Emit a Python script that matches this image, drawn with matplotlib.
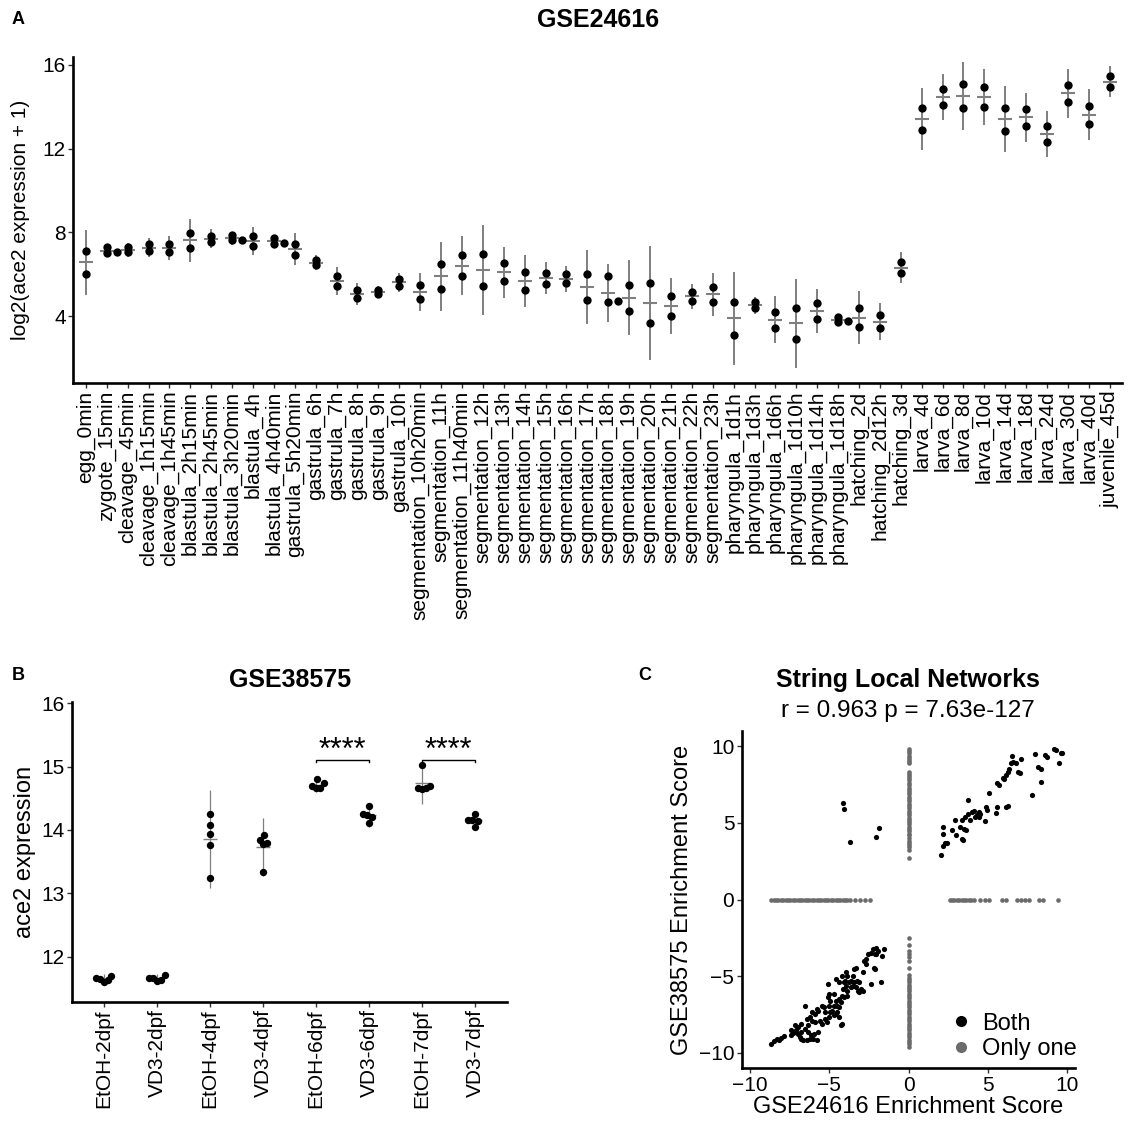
import numpy as np
import matplotlib.pyplot as plt
from matplotlib.lines import Line2D

plt.rcParams['font.family'] = ['Liberation Sans', 'DejaVu Sans']

# ---------------- data ----------------
# panel A: GSE24616 developmental stages (replicate values)
stages = ['egg_0min', 'zygote_15min', 'cleavage_45min', 'cleavage_1h15min', 'cleavage_1h45min',
          'blastula_2h15min', 'blastula_2h45min', 'blastula_3h20min', 'blastula_4h', 'blastula_4h40min',
          'gastrula_5h20min', 'gastrula_6h', 'gastrula_7h', 'gastrula_8h', 'gastrula_9h', 'gastrula_10h',
          'segmentation_10h20min', 'segmentation_11h', 'segmentation_11h40min', 'segmentation_12h',
          'segmentation_13h', 'segmentation_14h', 'segmentation_15h', 'segmentation_16h',
          'segmentation_17h', 'segmentation_18h', 'segmentation_19h', 'segmentation_20h',
          'segmentation_21h', 'segmentation_22h', 'segmentation_23h', 'pharyngula_1d1h',
          'pharyngula_1d3h', 'pharyngula_1d6h', 'pharyngula_1d10h', 'pharyngula_1d14h',
          'pharyngula_1d18h', 'hatching_2d', 'hatching_2d12h', 'hatching_3d', 'larva_4d', 'larva_6d',
          'larva_8d', 'larva_10d', 'larva_14d', 'larva_18d', 'larva_24d', 'larva_30d', 'larva_40d',
          'juvenile_45d']
stage_values = [
    [7.12, 6.03], [7.31, 7.05, 7.03], [7.29, 7.06], [7.44, 7.12], [7.47, 7.07],
    [7.99, 7.25], [7.85, 7.53], [7.90, 7.64, 7.62], [7.83, 7.36], [7.75, 7.49, 7.47],
    [7.47, 6.93], [6.70, 6.43], [5.92, 5.45], [5.24, 4.87], [5.27, 5.06],
    [5.78, 5.46], [5.48, 4.84], [6.48, 5.32], [6.91, 5.92], [6.97, 5.45],
    [6.53, 5.67], [6.11, 5.24], [6.08, 5.54], [6.00, 5.57], [6.03, 4.78],
    [5.92, 4.68, 4.74], [5.51, 4.25], [5.60, 3.68], [4.97, 4.03], [5.15, 4.74],
    [5.40, 4.68], [4.68, 3.11], [4.67, 4.38], [4.22, 3.43], [4.41, 2.90],
    [4.62, 3.87], [3.98, 3.72, 3.76], [4.38, 3.49], [4.06, 3.43], [6.58, 6.07],
    [13.96, 12.91], [14.87, 14.09], [15.11, 13.96], [14.95, 14.01], [13.96, 12.85],
    [13.91, 13.09], [13.10, 12.32], [15.06, 14.23], [14.06, 13.20], [15.46, 14.94],
]

# panel B: GSE38575 treatment groups
groups = ['EtOH-2dpf', 'VD3-2dpf', 'EtOH-4dpf', 'VD3-4dpf', 'EtOH-6dpf', 'VD3-6dpf', 'EtOH-7dpf', 'VD3-7dpf']
group_values = [
    [11.60, 11.63, 11.65, 11.66, 11.70],
    [11.61, 11.64, 11.66, 11.67, 11.71],
    [14.25, 14.08, 13.93, 13.77, 13.24],
    [13.92, 13.84, 13.80, 13.78, 13.34],
    [14.80, 14.74, 14.69, 14.67, 14.66],
    [14.38, 14.25, 14.23, 14.21, 14.11],
    [15.03, 14.69, 14.67, 14.66, 14.64],
    [14.25, 14.16, 14.15, 14.14, 14.05],
]
sig_pairs = [(4, 5), (6, 7)]
sig_label = '****'
sig_y = 15.105

# panel C: enrichment scores of string local networks
both_x = [
    2.06, 2.17, 2.28, 2.45, 2.17, 2.17, 2.77, 2.92, 2.97, 3.25, 3.35, 3.35, 3.46, 3.53, 3.57, 3.61,
    3.78, 3.78, 3.89, 4.00, 4.11, 4.21, 4.32, 4.43, 4.54, 4.47, 4.82, 4.90, 4.97, 5.07, 5.50, 5.61,
    5.61, 5.72, 5.93, 6.04, 6.15, 6.26, 6.15, 6.26, 6.36, 6.47, 6.54, 6.58, 6.80, 6.90, 7.05, 7.12,
    7.76, 7.98, 8.19, 8.34, 8.36, 8.62, 8.73, 9.16, 9.33, 9.48, 9.59, 9.70,
    -4.13, -4.04, -3.68, -2.07, -1.85,
    -8.69, -8.47, -8.30, -8.15, -8.04, -7.83, -7.40, -7.29, -7.18, -7.08, -6.97, -6.86, -6.75, -6.65,
    -6.43, -6.22, -6.00, -5.79, -7.18, -6.75, -6.54, -6.32, -6.43, -6.22, -6.11, -5.89, -5.79, -5.68,
    -5.46, -5.36, -5.57, -5.46, -5.25, -5.14, -5.03, -4.93, -4.82, -4.71, -4.60, -4.50, -4.39, -4.28,
    -4.17, -6.54, -5.68, -5.94, -6.15, -5.25, -5.03, -5.08, -5.03, -4.71, -4.60, -4.50, -4.39, -4.28,
    -4.17, -4.13, -4.07, -4.00, -3.96, -3.85, -3.74, -3.64, -3.53, -3.42, -3.31, -3.27, -3.21, -3.10,
    -2.99, -2.88, -2.84, -2.71, -2.67, -2.56, -2.35, -2.19, -2.13, -2.24, -2.02, -1.92, -1.76, -2.02,
    -1.64, -1.55, -5.08, -4.60, -4.39, -4.17, -3.96, -3.85, -3.53, -3.31, -2.78, -2.35, -2.13, -6.32,
    -6.75, -6.97, -7.40, -5.89, -6.11, -4.93, -4.71, -4.39, -4.07, -3.85, -3.64, -3.42, -3.10,
]
both_y = [
    2.92, 3.46, 3.72, 3.68, 4.27, 4.76, 4.55, 5.20, 4.18, 4.76, 5.20, 3.98, 3.90, 4.63, 5.41, 4.55,
    5.59, 6.50, 5.20, 5.74, 5.80, 5.41, 5.52, 5.41, 5.59, 5.72, 5.15, 6.06, 5.85, 6.93, 5.63, 6.06,
    7.58, 7.47, 7.90, 7.84, 6.06, 6.11, 8.12, 8.34, 8.55, 8.88, 9.35, 8.98, 8.88, 8.34, 8.27, 9.20,
    6.82, 9.48, 8.66, 8.55, 7.69, 9.46, 9.31, 9.85, 9.79, 8.88, 9.59, 9.59,
    6.32, 5.89, 3.75, 4.07, 4.66,
    -9.41, -9.26, -9.13, -9.20, -9.05, -8.92, -8.55, -8.70, -8.66, -8.55, -8.76, -8.98, -9.09, -9.20,
    -9.20, -9.13, -9.09, -9.20, -8.22, -8.12, -8.44, -8.22, -7.79, -7.68, -7.36, -7.47, -7.14, -7.25,
    -6.92, -7.03, -7.90, -8.12, -7.79, -8.01, -7.68, -7.36, -7.25, -7.57, -7.47, -7.36, -7.68, -8.22,
    -8.12, -6.92, -8.66, -8.76, -8.83, -7.36, -6.92, -6.38, -6.17, -6.17, -6.60, -6.92, -7.03, -6.71,
    -6.28, -5.84, -5.41, -5.30, -5.63, -5.95, -5.41, -5.30, -4.98, -4.54, -4.44, -5.30, -5.95, -6.06,
    -5.84, -5.95, -4.76, -4.22, -3.89, -3.57, -3.46, -4.44, -4.54, -3.25, -3.14, -3.35, -5.41, -3.57,
    -3.68, -3.25, -5.52, -5.19, -5.41, -4.98, -4.76, -4.98, -5.63, -5.73, -4.00, -5.52, -3.57, -8.66,
    -8.66, -8.33, -8.87, -8.01, -7.90, -6.60, -6.92, -6.49, -6.38, -6.28, -5.73, -5.41, -5.41,
]
# networks significant in only one dataset (score 0 in the other)
only_col_y = [
    9.85, 9.70, 9.55, 9.40, 9.25, 9.10, 8.95, 8.90, 8.35, 8.20, 8.05, 7.90, 7.80, 7.60, 7.45, 7.30,
    7.15, 7.00, 6.90, 6.70, 6.55, 6.40, 6.25, 6.10, 6.00, 5.80, 5.65, 5.50, 5.35, 5.20, 5.05, 4.90,
    4.75, 4.60, 4.45, 4.30, 4.20, 4.00, 3.85, 3.70, 3.55, 3.40, 3.25, 2.70,
    -2.50, -3.00, -3.35, -3.55, -3.75, -4.00, -4.45, -4.95, -5.10, -5.25, -5.40, -5.55, -5.70, -5.85,
    -6.00, -6.15, -6.30, -6.45, -6.60, -6.75, -6.90, -7.05, -7.20, -7.35, -7.50, -7.65, -7.80, -7.95,
    -8.10, -8.25, -8.40, -8.55, -8.70, -8.85, -9.00, -9.15, -9.30, -9.45, -9.60,
]
only_row_x = [
    -8.65, -8.50, -8.35, -8.20, -8.05, -7.90, -7.75, -7.60, -7.45, -7.30, -7.15, -7.00, -6.85, -6.70,
    -6.55, -6.40, -6.25, -6.10, -5.95, -5.80, -5.65, -5.50, -5.35, -5.20, -5.05, -4.90, -4.75, -4.60,
    -4.45, -4.30, -4.15, -4.00, -3.85, -3.70, -3.35, -3.05, -2.75, -2.45,
    2.60, 2.75, 2.90, 3.05, 3.20, 3.35, 3.50, 3.65, 3.80, 3.95, 4.10, 4.50, 4.80, 5.05, 5.90, 6.15,
    6.85, 7.10, 7.35, 7.60, 8.25, 8.50, 9.40,
]
stat_text = 'r = 0.963 p = 7.63e-127'

# ---------------- figure ----------------
W, H = 1131, 1123
fig = plt.figure(figsize=(W / 100, H / 100), dpi=100)


def box(x0, y0, x1, y1):
    # pixel box (top-left origin) -> figure fraction
    return [x0 / W, 1 - y1 / H, (x1 - x0) / W, (y1 - y0) / H]


def style(ax, fs):
    for s in ['top', 'right']:
        ax.spines[s].set_visible(False)
    for s in ['left', 'bottom']:
        ax.spines[s].set_linewidth(1.9)
        ax.spines[s].set_color('black')
    ax.tick_params(length=3.5, width=1, color='#333333', labelsize=fs, labelcolor='black', pad=2)


def swarm(ax, xc, vals, sx, sy):
    # simple beeswarm: horizontal offsets (data units) so points do not collide
    vals = np.asarray(vals, float)
    ypx = ax.transData.transform(np.column_stack([np.full(len(vals), xc), vals]))[:, 1]
    xpx = ax.transData.transform([[0, 0], [1, 0]])
    per_unit = xpx[1, 0] - xpx[0, 0]
    placed = []
    offs = np.zeros(len(vals))
    for i in np.argsort(vals, kind='stable'):
        cands = [0.0]
        for dx, yy in placed:
            d = (ypx[i] - yy) / sy
            if abs(d) < 1:
                w = sx * np.sqrt(1 - d * d)
                cands += [dx + w, dx - w]
        cands.sort(key=lambda c: (round(abs(c), 6), -c))
        for c in cands:
            ok = True
            for dx, yy in placed:
                d = (ypx[i] - yy) / sy
                if abs(d) < 1 and abs(c - dx) < sx * np.sqrt(1 - d * d) - 1e-6:
                    ok = False
                    break
            if ok:
                break
        placed.append((c, ypx[i]))
        offs[i] = c / per_unit
    return offs


grey = '#7f7f7f'

# ---------------- panel A ----------------
axA = fig.add_axes(box(73.3, 57, 1122.3, 383))
style(axA, 15)
axA.set_xlim(-0.6, len(stages) - 0.4)
axA.set_ylim(0.81, 16.38)
axA.set_yticks([4, 8, 12, 16])
axA.set_xticks(range(len(stages)))
axA.set_xticklabels(stages, rotation=90, va='top', ha='center')
for i, v in enumerate(stage_values):
    v = np.array(v)
    m, sd = v.mean(), v.std(ddof=1)
    axA.vlines(i, m - 2 * sd, m + 2 * sd, color=grey, lw=1.4, zorder=2)
    axA.plot(i, m, marker='_', ms=10, mew=1.5, color=grey, zorder=2)
    off = swarm(axA, i, v, 10, 4)
    axA.plot(i + off, v, 'o', color='black', ms=6, mec='none', zorder=3)
axA.set_ylabel('log2(ace2 expression + 1)', fontsize=15)
axA.yaxis.set_label_coords(-0.041, 0.5)
fig.text(597.8 / W, 1 - 20 / H, 'GSE24616', fontsize=18, fontweight='bold', ha='center', va='center')
fig.text(18 / W, 1 - 20 / H, 'A', fontsize=13, fontweight='bold', ha='center', va='center')

# ---------------- panel B ----------------
axB = fig.add_axes(box(72.3, 701.7, 507, 1001.7))
style(axB, 15)
axB.set_xlim(-0.6, len(groups) - 0.4)
axB.set_ylim(11.29, 16.025)
axB.set_yticks([12, 13, 14, 15, 16])
axB.set_xticks(range(len(groups)))
axB.set_xticklabels(groups, rotation=90, va='top', ha='center')
for i, v in enumerate(group_values):
    v = np.array(v)
    m, sd = v.mean(), v.std(ddof=1)
    axB.vlines(i, m - 2 * sd, m + 2 * sd, color=grey, lw=0.9, zorder=2)
    axB.plot(i, m, marker='_', ms=9.5, mew=1.0, color=grey, zorder=2)
    off = swarm(axB, i, v, 4, 9)
    axB.plot(i + off, v, 'o', color='black', ms=5.3, mec='none', zorder=3)
for a, b in sig_pairs:
    axB.plot([a, a, b, b], [sig_y - 0.035, sig_y, sig_y, sig_y - 0.035], color='black', lw=1.0)
    axB.text((a + b) / 2, sig_y + 0.01, sig_label, ha='center', va='baseline', fontsize=22)
axB.set_ylabel('ace2 expression', fontsize=17)
fig.text(290 / W, 1 - 680 / H, 'GSE38575', fontsize=18, fontweight='bold', ha='center', va='center')
fig.text(18 / W, 1 - 676 / H, 'B', fontsize=13, fontweight='bold', ha='center', va='center')

# ---------------- panel C ----------------
axC = fig.add_axes(box(742, 731, 1075, 1068))
style(axC, 15)
axC.set_xlim(-10.5, 10.5)
axC.set_ylim(-11, 11)
axC.set_xticks([-10, -5, 0, 5, 10])
axC.set_yticks([-10, -5, 0, 5, 10])
only_x = [0.0] * len(only_col_y) + only_row_x
only_y = only_col_y + [0.0] * len(only_row_x)
axC.scatter(only_x, only_y, s=11, color='#6b6b6b', linewidths=0, zorder=2)
axC.scatter(both_x, both_y, s=14, color='black', linewidths=0, zorder=3)
axC.set_xlabel('GSE24616 Enrichment Score', fontsize=17, labelpad=1)
axC.set_ylabel('GSE38575 Enrichment Score', fontsize=17)
handles = [Line2D([], [], marker='o', ls='', color='black', ms=8, mec='none'),
           Line2D([], [], marker='o', ls='', color='#6b6b6b', ms=8, mec='none')]
axC.legend(handles, ['Both', 'Only one'], loc='lower right', frameon=False, fontsize=17,
           handletextpad=0.3, labelspacing=0.15, borderaxespad=0.0, handlelength=1.2,
           bbox_to_anchor=(1.035, -0.005))
fig.text(908 / W, 1 - 680 / H, 'String Local Networks', fontsize=18, fontweight='bold',
         ha='center', va='center')
fig.text(908 / W, 1 - 711 / H, stat_text, fontsize=17.5, ha='center', va='center')
fig.text(645 / W, 1 - 676 / H, 'C', fontsize=13, fontweight='bold', ha='center', va='center')

fig.savefig('out.png', dpi=100)
